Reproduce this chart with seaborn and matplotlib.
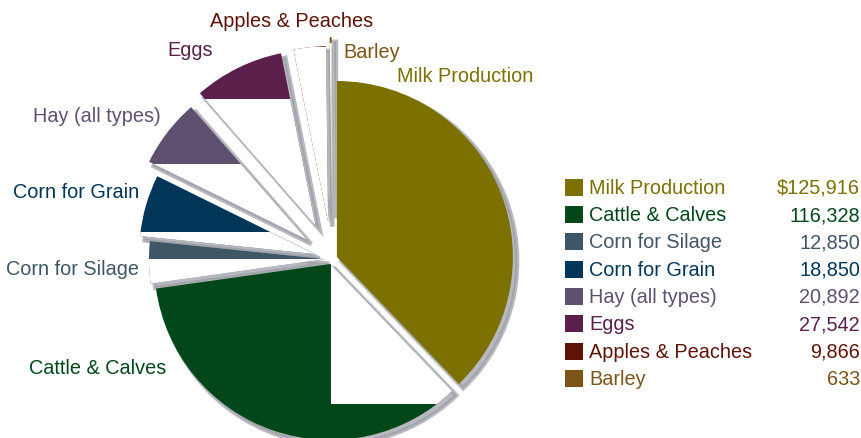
import matplotlib as mpl
import matplotlib.pyplot as plt
import matplotlib.patches as mpatches
import numpy as np
import pandas as pd
import seaborn as sns

# data
crops = [
    "Milk Production",
    "Cattle & Calves",
    "Corn for Silage",
    "Corn for Grain",
    "Hay (all types)",
    "Eggs",
    "Apples & Peaches",
    "Barley",
]
values = [125916, 116328, 12850, 18850, 20892, 27542, 9866, 633]
value_labels = ["$125,916", "116,328", "12,850", "18,850", "20,892", "27,542", "9,866", "633"]

colors = ["#7b7000", "#02471a", "#3f5667", "#013658", "#5f5070", "#5a1f4a", "#5e1306", "#7b5418"]
explode = [0.03, 0.03, 0.04, 0.1, 0.18, 0.21, 0.21, 0.26]

# pixel layout helpers (pie centre at px (332, 260), radius 176 px)
CX, CY, R = 332, 260, 176
W, H = 862, 439


def dx(px):
    return (px - CX) / R


def dy(py):
    return (CY - py) / R


sns.set_theme(style="white")
plt.rcParams["font.family"] = ["Liberation Sans Narrow", "Liberation Sans", "DejaVu Sans"]
FS = 14.3

fig = plt.figure(figsize=(W / 100, H / 100), dpi=100)
ax = fig.add_axes([0, 0, 1, 1])

wedges, _ = ax.pie(
    values,
    colors=colors,
    explode=explode,
    startangle=90,
    counterclock=False,
    radius=1,
    center=(0, 0),
    shadow=dict(ox=0.018, oy=-0.018, facecolor="#9a9ca4", edgecolor="#9a9ca4",
                linewidth=3, alpha=0.7),
    wedgeprops=dict(linewidth=0),
    frame=True,
)
ax.set_xlim(dx(0), dx(W))
ax.set_ylim(dy(H), dy(0))
ax.set_aspect("equal")
ax.axis("off")

# blank (white) parts of the wedges as seen in the picture: y threshold in px
white_below = {2: 260, 3: 233, 4: 165, 5: 100, 6: 48, 7: 44}
for i, ypx in white_below.items():
    rect = mpatches.Rectangle((-3, -3), 6, 3 + dy(ypx), facecolor="white",
                              edgecolor="none", zorder=1.5)
    ax.add_patch(rect)
    rect.set_clip_path(wedges[i])
# cattle: white block right of the vertex, above y=405 px
rect = mpatches.Rectangle((dx(331), dy(405)), 3, 3, facecolor="white",
                          edgecolor="none", zorder=1.5)
ax.add_patch(rect)
rect.set_clip_path(wedges[1])

# outside labels
label_pos = [(465, 77), (98, 369), (73, 270), (76, 193), (97, 117), (190, 50), (292, 21), (372, 52)]
for name, c, (px, py) in zip(crops, colors, label_pos):
    ax.text(dx(px), dy(py), name, color=c, fontsize=FS, ha="center", va="center")

# legend block with values
rows = np.arange(len(crops))
leg = pd.DataFrame({
    "x": [dx(574)] * len(crops),
    "y": [dy(188.3 + 27.3 * r) for r in rows],
    "crop": crops,
})
sns.scatterplot(data=leg, x="x", y="y", hue="crop", palette=colors, marker="s",
                s=150, linewidth=0, legend=False, ax=ax)
for (_, row), c, v in zip(leg.iterrows(), colors, value_labels):
    ax.text(dx(589), row["y"], row["crop"], color=c, fontsize=FS, ha="left", va="center")
    ax.text(dx(860), row["y"], v, color=c, fontsize=FS, ha="right", va="center")

ax.set_xlim(dx(0), dx(W))
ax.set_ylim(dy(H), dy(0))
ax.set_xlabel("")
ax.set_ylabel("")
fig.savefig("out.png", dpi=100, facecolor="white")
